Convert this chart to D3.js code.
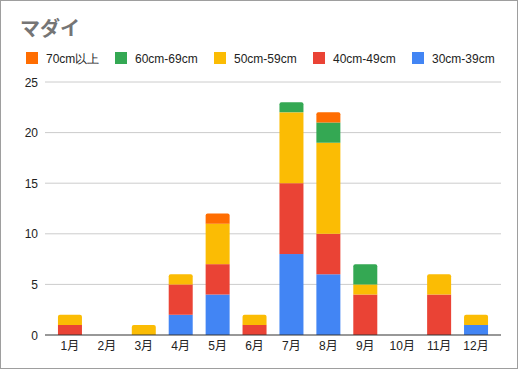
<!DOCTYPE html>
<html><head><meta charset="utf-8">
<script src="https://cdn.jsdelivr.net/npm/d3@7/dist/d3.min.js"></script>
<style>body{margin:0;background:#fff}svg{display:block;font-family:Arial,"Liberation Sans",sans-serif}</style>
</head><body><svg id="c" width="521" height="374"></svg>
<script>
const months = ["1月","2月","3月","4月","5月","6月","7月","8月","9月","10月","11月","12月"];
const s30 = [0,0,0,2,4,0,8,6,0,0,0,1];
const s40 = [1,0,0,3,3,1,7,4,4,0,4,0];
const s50 = [1,0,1,1,4,1,7,9,1,0,2,1];
const s60 = [0,0,0,0,0,0,1,2,2,0,0,0];
const s70 = [0,0,0,0,1,0,0,1,0,0,0,0];
const seriesNames = ["30cm-39cm","40cm-49cm","50cm-59cm","60cm-69cm","70cm以上"];
const seriesColors = ["#4285F4","#EA4335","#FBBC04","#34A853","#FF6D01"];
const yTicks = [0,5,10,15,20,25];
const legendOrder = [4,3,2,1,0];

const svg = d3.select("#c");
svg.append("rect").attr("x",0.5).attr("y",0.5).attr("width",517).attr("height",368)
  .attr("fill","#fff").attr("stroke","#9e9e9e");

svg.append("text").attr("x",20).attr("y",36).text("マダイ")
  .attr("font-size",20).attr("font-weight","bold").attr("fill","#757575")
  .attr("font-family","'Noto Sans CJK JP',sans-serif");

const legendX = [26,115,214,313,412];
legendOrder.forEach((si,i)=>{
  const g = svg.append("g").attr("transform",`translate(${legendX[i]},52)`);
  g.append("rect").attr("width",12).attr("height",12).attr("fill",seriesColors[si]);
  g.append("text").attr("x",20).attr("y",10.5).attr("font-size",12).attr("fill","#222").text(seriesNames[si]);
});

const x = d3.scaleBand().domain(months).range([51.5,494.5]).paddingInner(0.35).paddingOuter(0.175);
const y = d3.scaleLinear().domain([0,25]).range([335,82]);

const grid = svg.append("g");
yTicks.forEach(t=>{
  if(t>0) grid.append("line").attr("x1",45).attr("x2",501).attr("y1",y(t)).attr("y2",y(t)).attr("stroke","#cccccc");
  grid.append("text").attr("x",38).attr("y",y(t)+4.5).attr("text-anchor","end").attr("font-size",12).attr("fill","#222").text(t);
});

const data = months.map((m,i)=>({m, v:[s30[i],s40[i],s50[i],s60[i],s70[i]]}));
const stack = d3.stack().keys([0,1,2,3,4]).value((d,k)=>d.v[k]);
const layers = stack(data);
const topIdx = data.map(d=>{let t=-1; d.v.forEach((v,k)=>{if(v>0)t=k;}); return t;});

layers.forEach((layer,k)=>{
  layer.forEach((seg,i)=>{
    const v = seg[1]-seg[0];
    if(v<=0) return;
    const x0 = x(months[i]), w = x.bandwidth();
    const yt = y(seg[1]), yb = y(seg[0]);
    if(topIdx[i]===k){
      const r=2;
      svg.append("path").attr("fill",seriesColors[k]).attr("d",
        `M${x0},${yb}V${yt+r}Q${x0},${yt} ${x0+r},${yt}H${x0+w-r}Q${x0+w},${yt} ${x0+w},${yt+r}V${yb}Z`);
    } else {
      svg.append("rect").attr("x",x0).attr("y",yt).attr("width",w).attr("height",yb-yt).attr("fill",seriesColors[k]);
    }
  });
});

svg.append("line").attr("x1",45).attr("x2",501).attr("y1",335).attr("y2",335).attr("stroke","#333").attr("stroke-width",1.2);

const xAxis = svg.append("g").attr("transform","translate(0,335)")
  .call(d3.axisBottom(x).tickSize(0).tickPadding(6));
xAxis.select(".domain").remove();
xAxis.selectAll("text").attr("font-size",12).attr("fill","#222").attr("font-family","Arial,'Noto Sans CJK JP',sans-serif");
</script></body></html>
